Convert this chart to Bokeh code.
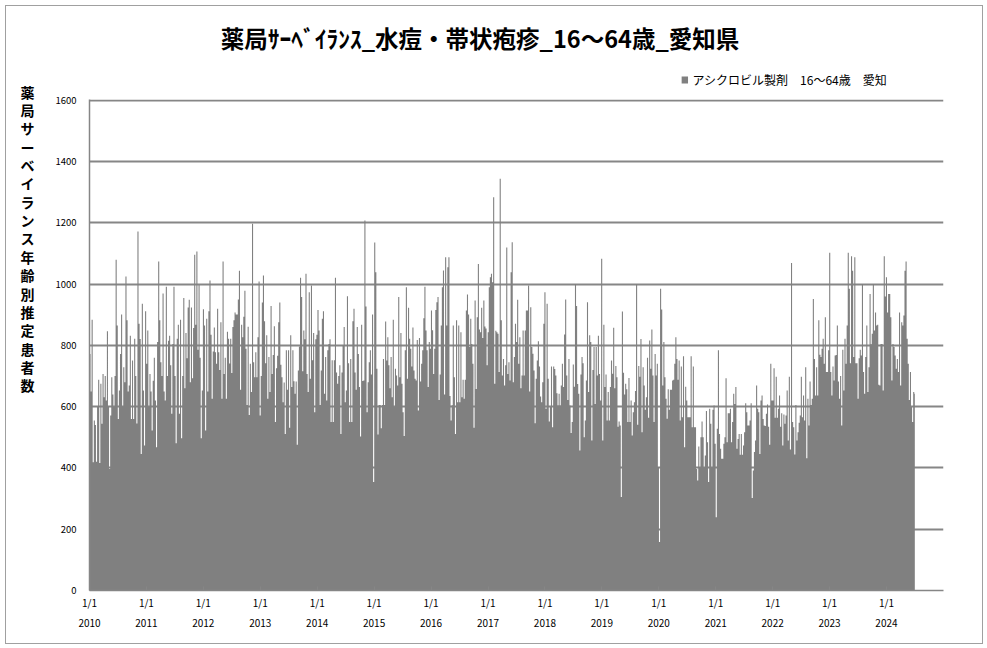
import datetime as dt
from bokeh.plotting import figure
from bokeh.layouts import row, column
from bokeh.models import Range1d, FixedTicker, DatetimeAxis, ColumnDataSource
from bokeh.core.properties import value
from bokeh.embed import file_html
from bokeh.resources import INLINE

# ---------------- texts ----------------
title_text = "薬局ｻｰﾍﾞｲﾗﾝｽ_水痘・帯状疱疹_16～64歳_愛知県"
ylabel_text = "薬局サーベイランス年齢別推定患者数"
legend_text = "アシクロビル製剤　16～64歳　愛知"
year_labels = ["2010", "2011", "2012", "2013", "2014", "2015", "2016", "2017",
               "2018", "2019", "2020", "2021", "2022", "2023", "2024"]
date_label = "1/1"
y_ticks = [0, 200, 400, 600, 800, 1000, 1200, 1400, 1600]

# ------------- weekly values (peak estimated patients), weeks from 2010-01-04 -------------
wk2010 = [772, 650, 884, 419, 555, 540, 420, 600, 688, 416,
          675, 544, 707, 631, 700, 620, 846, 600, 397, 571,
          696, 640, 600, 700, 1080, 865, 560, 653, 772, 901,
          600, 729, 680, 1025, 882, 650, 669, 832, 560, 751,
          560, 822, 700, 545, 1172, 871, 821, 446, 936, 653,
          473, 912]
wk2011 = [740, 849, 600, 707, 650, 522, 685, 760,
          620, 468, 811, 1074, 882, 745, 700, 970, 650, 620,
          992, 700, 815, 832, 735, 577, 805, 992, 700, 481,
          822, 868, 577, 884, 497, 700, 955, 660, 841, 758,
          924, 949, 680, 924, 693, 857, 1096, 868, 1107, 786,
          998, 760, 497, 653]
wk2012 = [918, 865, 522, 887, 650, 912,
          1012, 835, 626, 780, 859, 778, 740, 920, 778, 720,
          876, 626, 1074, 707, 760, 626, 845, 822, 741, 822,
          710, 860, 882, 908, 901, 901, 950, 1044, 655, 868,
          827, 894, 979, 789, 606, 861, 573, 740, 648, 1197,
          745, 696, 778, 696, 827, 1009, 571]
wk2013 = [700, 940, 1028,
          879, 742, 833, 626, 762, 648, 929, 707, 769, 863,
          550, 726, 766, 876, 940, 737, 696, 615, 679, 511,
          784, 655, 784, 531, 833, 664, 784, 683, 642, 682,
          476, 718, 797, 1021, 958, 716, 849, 820, 1034, 707,
          648, 974, 691, 996, 752, 841, 582, 820, 835]
wk2014 = [916,
          849, 606, 718, 887, 912, 642, 762, 620, 784, 805,
          820, 550, 752, 550, 752, 1021, 712, 675, 700, 735,
          511, 712, 800, 860, 615, 653, 961, 742, 550, 756,
          550, 879, 920, 712, 655, 860, 772, 664, 503, 868,
          684, 686, 1208, 927, 582, 680, 745, 784, 705, 901,
          354]
wk2015 = [1136, 1039, 724, 509, 606, 606, 530, 606, 756,
          606, 878, 751, 827, 735, 660, 762, 631, 884, 599,
          724, 702, 669, 958, 696, 841, 675, 582, 504, 784,
          990, 691, 923, 822, 789, 731, 859, 718, 691, 686,
          818, 588, 824, 682, 740, 784, 889, 992, 849, 784,
          664, 811, 789]
wk2016 = [914, 850, 707, 789, 916, 941, 958,
          622, 705, 865, 990, 1045, 640, 1088, 865, 1055, 1088,
          635, 555, 605, 865, 696, 511, 882, 615, 865, 615,
          843, 631, 688, 626, 688, 914, 966, 901, 795, 887,
          805, 740, 531, 947, 658, 892, 1066, 852, 843, 923,
          824, 947, 862, 855, 735]
wk2017 = [843, 990, 1023, 1034, 1006,
          1284, 675, 848, 843, 838, 713, 1344, 882, 702, 756,
          669, 735, 1120, 707, 745, 686, 1039, 1137, 680, 762,
          871, 811, 949, 740, 827, 660, 702, 849, 702, 849,
          914, 914, 996, 650, 925, 795, 773, 718, 546, 691,
          751, 814, 731, 633, 615, 680, 871]
wk2018 = [974, 593, 936,
          691, 552, 599, 731, 533, 731, 723, 702, 644, 604,
          642, 604, 669, 740, 664, 836, 950, 702, 622, 756,
          604, 514, 550, 738, 665, 1001, 929, 674, 642, 457,
          705, 762, 742, 500, 555, 686, 941, 648, 833, 811,
          490, 720, 795, 609, 795, 702, 832, 707, 620]
wk2019 = [1083,
          490, 868, 664, 705, 555, 648, 555, 664, 751, 708,
          858, 660, 733, 696, 535, 552, 539, 305, 911, 711,
          640, 675, 657, 550, 694, 550, 620, 506, 582, 615,
          651, 1001, 541, 733, 698, 821, 517, 729, 669, 590,
          631, 760, 564, 816, 724, 852, 702, 550, 772, 702,
          740]
wk2020 = [403, 158, 985, 917, 669, 811, 696, 626, 561,
          657, 590, 655, 655, 686, 688, 740, 827, 756, 688,
          751, 555, 731, 566, 765, 468, 665, 620, 566, 566,
          566, 765, 533, 731, 533, 533, 397, 359, 470, 402,
          500, 552, 500, 402, 441, 586, 484, 354, 593, 544,
          402, 590, 604]
wk2021 = [479, 239, 528, 784, 511, 463, 430,
          430, 479, 500, 693, 484, 579, 579, 593, 484, 550,
          642, 609, 664, 463, 495, 511, 443, 511, 443, 473,
          517, 611, 582, 539, 539, 555, 611, 302, 392, 452,
          490, 669, 593, 582, 446, 620, 637, 560, 539, 537,
          577, 607, 535, 476, 740]
wk2022 = [620, 620, 726, 564, 698,
          564, 593, 637, 535, 579, 473, 575, 544, 571, 653,
          490, 698, 460, 1069, 550, 533, 444, 606, 490, 517,
          548, 571, 698, 566, 637, 555, 729, 432, 626, 539,
          682, 606, 626, 952, 756, 637, 729, 637, 882, 770,
          762, 789, 822, 740, 892, 713, 713]
wk2023 = [784, 1103, 713,
          637, 731, 686, 767, 769, 865, 682, 626, 700, 539,
          786, 653, 822, 740, 865, 1103, 985, 742, 1091, 1044,
          762, 1088, 742, 742, 626, 758, 786, 767, 1001, 713,
          642, 762, 865, 648, 729, 968, 804, 838, 1001, 849,
          908, 865, 868, 672, 669, 805, 805, 653, 1091]
wk2024 = [960,
          1023, 908, 968, 968, 892, 686, 805, 795, 767, 724,
          756, 713, 908, 669, 876, 865, 898, 1044, 1074, 822,
          740, 622, 713, 599, 550, 648, 642]

values = (wk2010 + wk2011 + wk2012 + wk2013 + wk2014 + wk2015 + wk2016 + wk2017 +
          wk2018 + wk2019 + wk2020 + wk2021 + wk2022 + wk2023 + wk2024)
first_week = dt.datetime(2010, 1, 4)
dates = [first_week + dt.timedelta(days=7 * i) for i in range(len(values))]
src = ColumnDataSource(data=dict(date=dates, val=values, base=[0] * len(values)))

EPOCH = dt.datetime(1970, 1, 1)
def ms(d):
    return int((d - EPOCH).total_seconds() * 1000)

tick_ms = [ms(dt.datetime(int(y), 1, 1)) for y in year_labels]

FONT = "Noto Sans CJK JP"
GREY = "#868686"
BAR = "#808080"

LEFT_W, HEAD_H, MAIN_W, MAIN_H = 40, 85, 936, 552


def blank(w, h):
    f = figure(width=w, height=h, x_range=Range1d(0, w), y_range=Range1d(h, 0),
               x_axis_type=None, y_axis_type=None, output_backend="svg",
               toolbar_location=None, min_border=0)
    f.outline_line_color = None
    f.grid.grid_line_color = None
    f.background_fill_color = "white"
    f.border_fill_color = "white"
    return f

# ---------------- main chart ----------------
p = figure(width=MAIN_W, height=MAIN_H, x_axis_type="datetime",
           x_range=Range1d(dt.datetime(2010, 1, 1), dt.datetime(2025, 1, 1)),
           y_range=Range1d(0, 1603),
           output_backend="svg", toolbar_location=None,
           min_border_left=43, min_border_right=39, min_border_top=8,
           min_border_bottom=53)
p.outline_line_color = None
p.background_fill_color = "white"
p.border_fill_color = "white"

# weekly bars, drawn as one stepped area so adjacent bars have no seams
if hasattr(p, "varea_step"):
    p.varea_step(x="date", y1="base", y2="val", step_mode="center", source=src,
                 fill_color=BAR)
else:
    p.vbar(x="date", top="val", width=7.6 * 86400000, source=src,
           fill_color=BAR, line_color=None)

ya = p.yaxis[0]
ya.ticker = FixedTicker(ticks=y_ticks)
ya.axis_line_color = GREY
ya.axis_line_width = 1.5
ya.major_tick_line_color = None
ya.minor_tick_line_color = None
ya.major_label_text_font = FONT
ya.major_label_text_font_size = "9.5px"
ya.major_label_text_color = "black"
ya.major_label_standoff = 7

p.ygrid.ticker = FixedTicker(ticks=y_ticks)
p.ygrid.grid_line_color = GREY
p.ygrid.grid_line_width = 2
p.xgrid.grid_line_color = None

xa = p.xaxis[0]
xa.ticker = FixedTicker(ticks=tick_ms)
xa.major_label_overrides = {t: date_label for t in tick_ms}
xa.axis_line_color = GREY
xa.axis_line_width = 1.5
xa.major_tick_line_color = GREY
xa.major_tick_in = 4
xa.major_tick_out = 0
xa.minor_tick_line_color = None
xa.major_label_text_font = FONT
xa.major_label_text_font_size = "10px"
xa.major_label_text_color = "black"
xa.major_label_standoff = 4

xa2 = DatetimeAxis(ticker=FixedTicker(ticks=tick_ms),
                   major_label_overrides={t: y for t, y in zip(tick_ms, year_labels)})
xa2.axis_line_color = None
xa2.major_tick_line_color = None
xa2.minor_tick_line_color = None
xa2.major_label_text_font = FONT
xa2.major_label_text_font_size = "10px"
xa2.major_label_text_color = "black"
xa2.major_label_standoff = 0
p.add_layout(xa2, "below")

# ---------------- header: title + legend ----------------
head = blank(MAIN_W, HEAD_H)
head.text(x=[428], y=[31], text=[title_text], text_font=value(FONT),
          text_font_size="23.5px", text_font_style="bold", text_align="center",
          text_baseline="middle", text_color="black")
# legend swatch and label
head.rect(x=[652.5], y=[73.5], width=7, height=7, fill_color=BAR, line_color=None)
head.text(x=[661], y=[73], text=[legend_text], text_font=value(FONT),
          text_font_size="12px", text_align="left", text_baseline="middle",
          text_color="black")

# ---------------- left: vertical axis title ----------------
left = blank(LEFT_W, HEAD_H + MAIN_H)
chars = list(ylabel_text)
left.text(x=[21] * len(chars), y=[85 + i * 18.37 for i in range(len(chars))],
          text=chars, text_font=value(FONT), text_font_size="14px",
          text_font_style="bold", text_align="center", text_baseline="middle",
          text_color="black")

layout = row(left, column(head, p, spacing=0), spacing=0)
layout.styles = {"border": "1px solid #a0a0a0", "margin": "5px"}

open("out.html", "w").write(file_html(layout, INLINE))
